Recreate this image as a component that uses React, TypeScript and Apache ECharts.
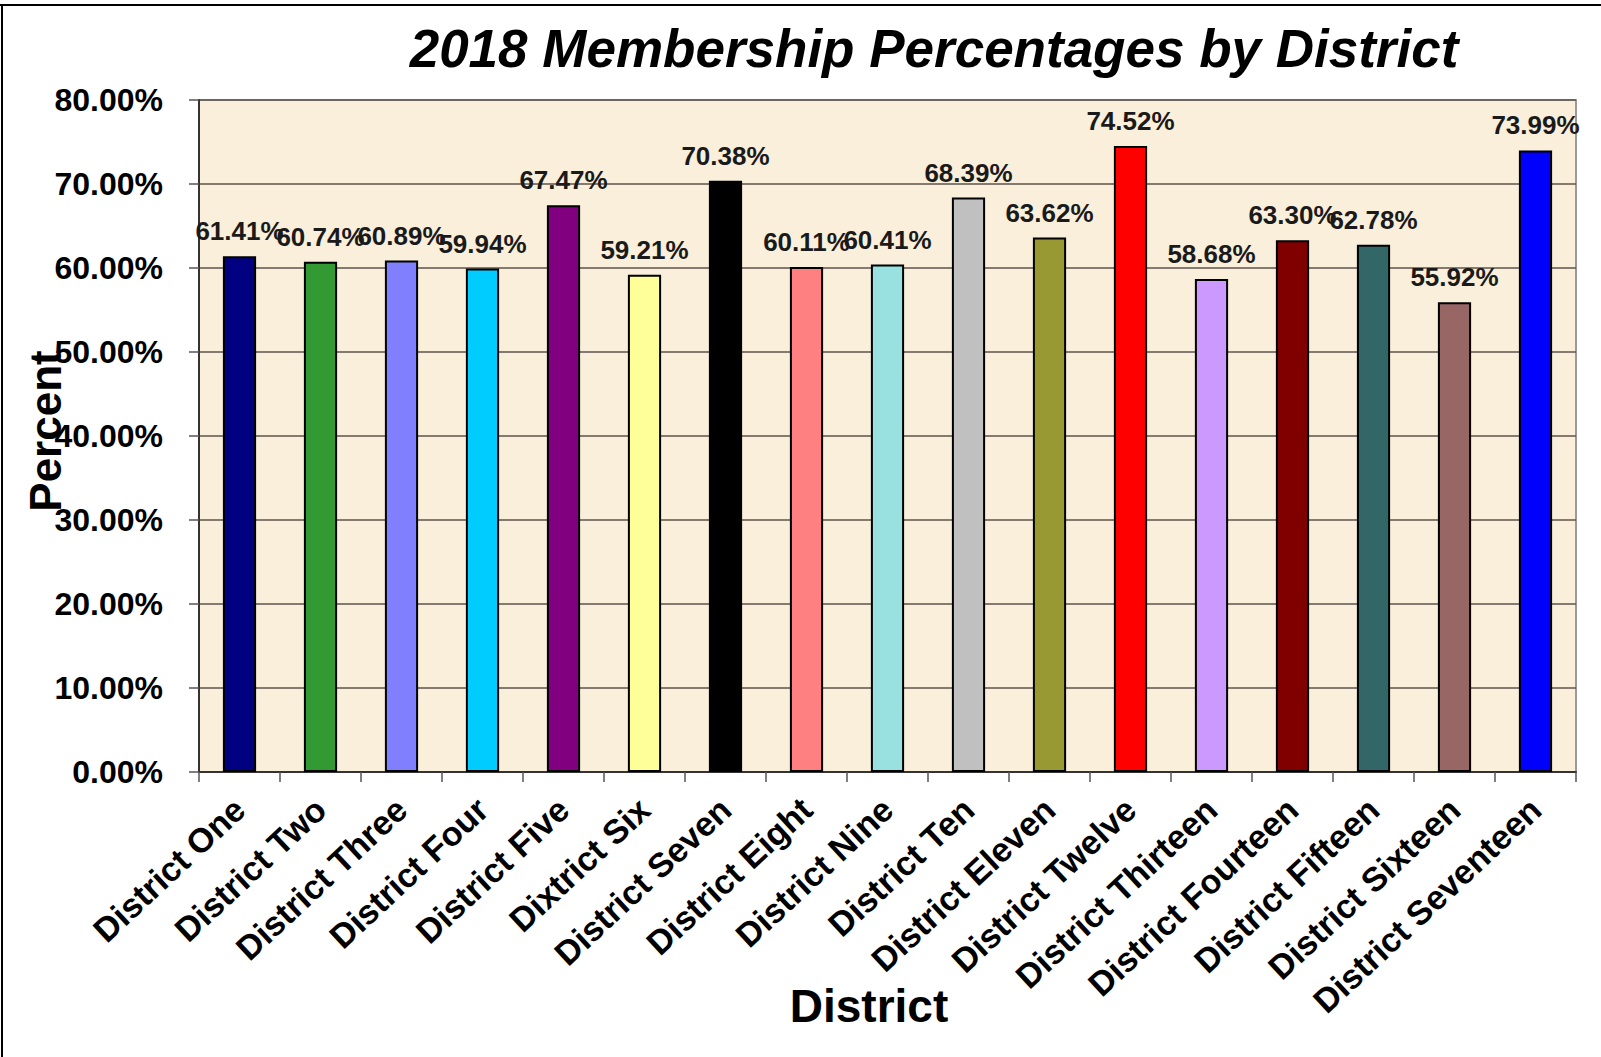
import React, { useEffect, useRef } from "react";
import * as echarts from "echarts";

const districts = [
  "District One", "District Two", "District Three", "District Four", "District Five",
  "Dixtrict Six", "District Seven", "District Eight", "District Nine", "District Ten",
  "District Eleven", "District Twelve", "District Thirteen", "District Fourteen",
  "District Fifteen", "District Sixteen", "District Seventeen",
];
const percents = [
  61.41, 60.74, 60.89, 59.94, 67.47, 59.21, 70.38, 60.11, 60.41, 68.39,
  63.62, 74.52, 58.68, 63.3, 62.78, 55.92, 73.99,
];
const barColors = [
  "#000080", "#339933", "#8080FF", "#00CCFF", "#800080", "#FFFF99", "#000000",
  "#FF8080", "#99E0E0", "#C0C0C0", "#999933", "#FF0000", "#CC99FF", "#800000",
  "#336666", "#996666", "#0000FF",
];
const titleText = "2018 Membership Percentages by District";
const xAxisTitle = "District";
const yAxisTitle = "Percent";
const FONT = '"Liberation Sans", Arial, sans-serif';

export default function App() {
  const ref = useRef<HTMLDivElement>(null);
  useEffect(() => {
    if (!ref.current) return;
    const chart = echarts.init(ref.current, null, { renderer: "svg" });
    chart.setOption({
      animation: false,
      backgroundColor: "#ffffff",
      textStyle: { fontFamily: FONT },
      grid: {
        left: 199, right: 25, top: 100, bottom: 285,
        containLabel: false,
        outerBoundsMode: "none",
        show: true, backgroundColor: "#F9EFDB", borderColor: "#9a9a9a", borderWidth: 2,
      },
      graphic: [
        { type: "line", shape: { x1: 0, y1: 5, x2: 1601, y2: 5 }, style: { stroke: "#000", lineWidth: 2 } },
        { type: "line", shape: { x1: 2, y1: 5, x2: 2, y2: 1057 }, style: { stroke: "#000", lineWidth: 2 } },
        {
          type: "text", x: 934, y: 48,
          style: {
            text: titleText, align: "center", verticalAlign: "middle",
            fontFamily: FONT, fontSize: 53, fontWeight: "bold", fontStyle: "italic", fill: "#000",
          },
        },
        {
          type: "text", x: 869, y: 1006,
          style: {
            text: xAxisTitle, align: "center", verticalAlign: "middle",
            fontFamily: FONT, fontSize: 46, fontWeight: "bold", fill: "#000",
          },
        },
        {
          type: "text", x: 45, y: 431, rotation: Math.PI / 2,
          style: {
            text: yAxisTitle, align: "center", verticalAlign: "middle",
            fontFamily: FONT, fontSize: 44, fontWeight: "bold", fill: "#000",
          },
        },
      ],
      xAxis: {
        type: "category",
        data: districts,
        axisLine: { lineStyle: { color: "#333", width: 2 } },
        axisTick: { show: true, length: 10, lineStyle: { color: "#555", width: 1.5 } },
        axisLabel: {
          interval: 0, rotate: 43, margin: 32,
          fontSize: 34, fontWeight: "bold", color: "#000", fontFamily: FONT,
        },
      },
      yAxis: {
        type: "value",
        min: 0, max: 80, interval: 10,
        axisLine: { show: true, lineStyle: { color: "#333", width: 2 } },
        axisTick: { show: true, length: 10, lineStyle: { color: "#555", width: 1.5 } },
        axisLabel: {
          margin: 36, fontSize: 32, fontWeight: "bold", color: "#000", fontFamily: FONT,
          formatter: (v: number) => v.toFixed(2) + "%",
        },
        splitLine: { show: true, lineStyle: { color: "#5e534c", width: 1.5 } },
      },
      series: [
        {
          type: "bar",
          barWidth: "41%",
          data: percents.map((v, i) => ({
            value: v,
            itemStyle: { color: barColors[i], borderColor: "#000", borderWidth: 2 },
          })),
          label: {
            show: true, position: "top", distance: 12,
            fontSize: 26, fontWeight: "bold", color: "#1a1a1a", fontFamily: FONT,
            formatter: (p: any) => p.value.toFixed(2) + "%",
          },
        },
      ],
    });
    return () => chart.dispose();
  }, []);
  return (
    <div
      ref={ref}
      style={{ position: "absolute", left: 0, top: 0, width: 1601, height: 1057 }}
    />
  );
}
